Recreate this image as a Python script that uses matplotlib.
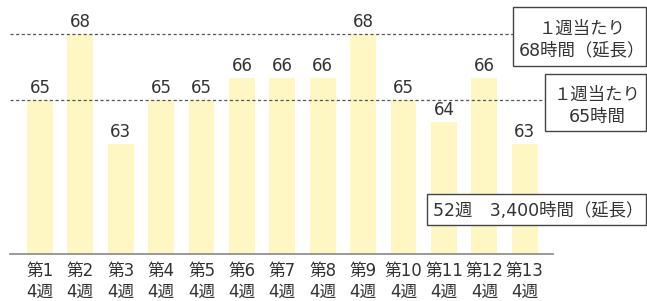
import numpy as np
import matplotlib
matplotlib.use("Agg")
import matplotlib.pyplot as plt
from matplotlib.patches import Rectangle

# DejaVu first for the wide digits, CJK glyphs fall back to Noto
plt.rcParams['font.family'] = ['DejaVu Sans', 'Noto Sans CJK JP']

## == data ==
periods = ['第%d' % i for i in range(1, 14)]
weeks = ['4週'] * 13
hours = [65, 68, 63, 65, 65, 66, 66, 66, 68, 65, 64, 66, 63]
ref_lines = [68, 65]
box_texts = ['１週当たり\n68時間（延長）', '１週当たり\n65時間', '52週　3,400時間（延長）']

W, H = 647, 301
fs = 12
fig = plt.figure(figsize=(W / 100, H / 100), dpi=100)

# axes in pixel coords: left 10, right 553, bottom y=254, top y=0
ax = fig.add_axes([10 / W, (H - 254) / H, 543 / W, 254 / H])
x = np.arange(len(hours))
ax.bar(x, hours, width=0.64, color='#fef7c4', zorder=1)
ax.set_xlim(-0.74, 12.7)
ax.set_ylim(58, 58 + 254 / 22)

for xi, v in zip(x, hours):
    ax.text(xi, v + 0.12, str(v), ha='center', va='bottom', fontsize=fs, color='#333333')

# dotted reference lines, stop at the boxes
ax.axhline(ref_lines[0], xmin=0, xmax=(513 - 10) / 543, color='#555555', lw=0.9,
           ls=(0, (2.5, 2)), zorder=3)
ax.axhline(ref_lines[1], xmin=0, xmax=(545 - 10) / 543, color='#555555', lw=0.9,
           ls=(0, (2.5, 2)), zorder=3)

for s in ['top', 'right', 'left']:
    ax.spines[s].set_visible(False)
ax.spines['bottom'].set_color('#888888')
ax.spines['bottom'].set_linewidth(1.2)
ax.set_yticks([])
ax.set_xticks(x)
ax.set_xticklabels([p + '\n' + w for p, w in zip(periods, weeks)], fontsize=fs,
                   color='#333333', linespacing=1.2)
ax.tick_params(axis='x', length=0, pad=6)

## == boxes (pixel coords: left, top, right, bottom, text x, text y) ==
boxes = [(513, 7.5, 646, 65.5, 582, 39.5),
         (545, 74.5, 646, 131.5, 597, 105.5),
         (427, 194, 646, 225, 538, 211)]
for (l, t, r, b, tx, ty), txt in zip(boxes, box_texts):
    fig.patches.append(Rectangle((l / W, 1 - b / H), (r - l) / W, (b - t) / H,
                                 transform=fig.transFigure, facecolor='white',
                                 edgecolor='#444444', lw=1.0, zorder=5))
    fig.text(tx / W, 1 - ty / H, txt, ha='center', va='center',
             fontsize=fs + 0.5, color='#333333', linespacing=1.3, zorder=6)

fig.savefig('out.png', dpi=100)
